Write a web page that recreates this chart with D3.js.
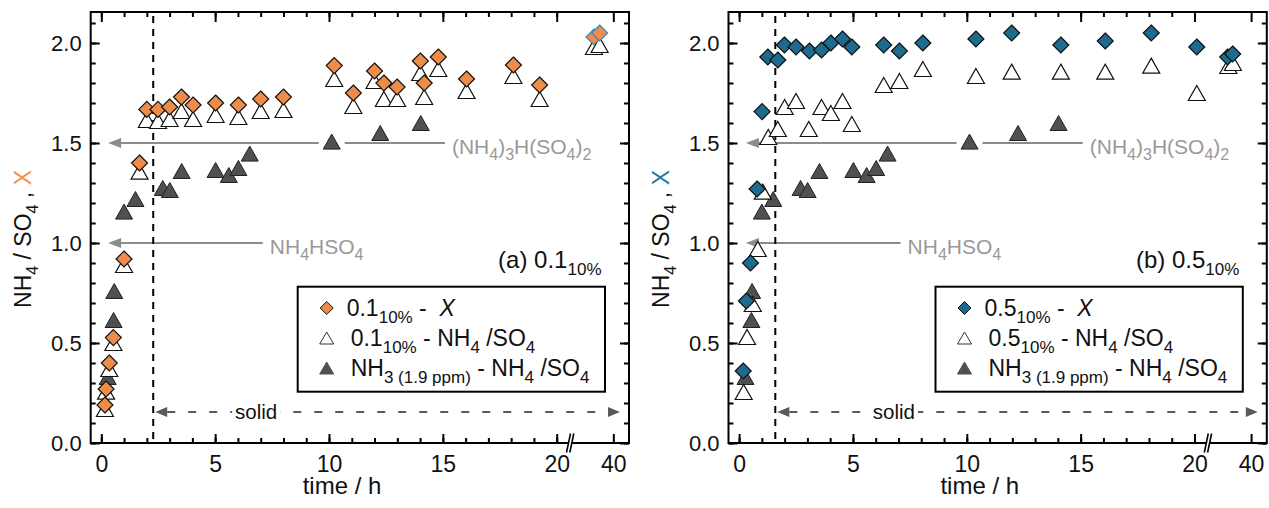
<!DOCTYPE html>
<html>
<head>
<meta charset="utf-8">
<script src="https://cdn.jsdelivr.net/npm/d3@7"></script>
<style>
  body { margin: 0; background: #fff; }
  svg { display: block; font-family: "Liberation Sans", Arial, Helvetica, sans-serif; }
</style>
</head>
<body>
<svg id="chart" width="1269" height="508"></svg>
<script>
// tick values
const timeTicks = [0, 5, 10, 15, 20];
const timeMinor = d3.range(0, 21);
const lateTicks = [40];
const ratioTicks = [0, 0.5, 1, 1.5, 2];
const ratioMinor = d3.range(0, 22).map((i) => i / 10);

// (a) 0.1_10% : X  [time h, value]
const xOrange = [
  [0.16, 0.19], [0.21, 0.27], [0.35, 0.4], [0.53, 0.527], [1.0, 0.92],
  [1.68, 1.4], [2.0, 1.668], [2.49, 1.668], [3.0, 1.68], [3.52, 1.73],
  [4.03, 1.69], [5.02, 1.7], [6.02, 1.69], [7.0, 1.72], [8.0, 1.73],
  [10.23, 1.887], [11.07, 1.75], [12.0, 1.86], [12.41, 1.8], [12.99, 1.78],
  [14.01, 1.91], [14.18, 1.8], [14.8, 1.93], [16.04, 1.82], [18.1, 1.89],
  [19.25, 1.79], [39.15, 2.03], [39.4, 2.05],
];
// (a) 0.1_10% : NH4/SO4
const ratioA = [
  [0.16, 0.17], [0.21, 0.257], [0.35, 0.37], [0.53, 0.5], [1.0, 0.89],
  [1.68, 1.357], [2.0, 1.615], [2.49, 1.61], [3.0, 1.62], [3.52, 1.66],
  [4.03, 1.62], [5.02, 1.64], [6.02, 1.63], [7.0, 1.66], [8.0, 1.665],
  [10.23, 1.82], [11.07, 1.685], [12.0, 1.81], [12.41, 1.72], [12.99, 1.72],
  [14.01, 1.85], [14.18, 1.73], [14.8, 1.87], [16.04, 1.76], [18.1, 1.835],
  [19.25, 1.72], [39.15, 1.98], [39.4, 1.99],
];
// (b) 0.5_10% : X
const xBlue = [
  [0.18, 0.36], [0.32, 0.71], [0.5, 0.9], [0.79, 1.27], [1.01, 1.657],
  [1.26, 1.93], [1.7, 1.915], [1.99, 1.99], [2.5, 1.98], [3.09, 1.96],
  [3.62, 1.965], [4.03, 2.0], [4.54, 2.02], [4.95, 1.98], [6.35, 1.99],
  [7.04, 1.96], [8.07, 2.0], [10.4, 2.02], [11.97, 2.05], [14.13, 1.99],
  [16.08, 2.01], [18.1, 2.05], [20.1, 1.98], [38.97, 1.93], [39.19, 1.945],
];
// (b) 0.5_10% : NH4/SO4
const ratioB = [
  [0.2, 0.255], [0.35, 0.53], [0.6, 0.695], [0.82, 0.97], [1.04, 1.257],
  [1.28, 1.53], [1.7, 1.57], [2.0, 1.68], [2.5, 1.71], [3.06, 1.57],
  [3.62, 1.68], [4.03, 1.65], [4.54, 1.71], [4.95, 1.595], [6.35, 1.79],
  [7.04, 1.81], [8.07, 1.87], [10.4, 1.835], [11.97, 1.857], [14.13, 1.857],
  [16.08, 1.857], [18.1, 1.887], [20.1, 1.75], [39.0, 1.885], [39.2, 1.9],
];
// NH3 (1.9 ppm) : NH4/SO4 (same in both panels)
const nh3 = [
  [0.28, 0.33], [0.54, 0.615], [0.57, 0.76], [1.0, 1.157], [1.5, 1.22],
  [2.7, 1.275], [3.01, 1.265], [3.53, 1.36], [5.02, 1.365], [5.6, 1.34],
  [6.02, 1.375], [6.52, 1.447], [10.12, 1.507], [12.25, 1.55], [14.03, 1.6],
];

// reference salts: ratio, label start (h)
const salts = [
  { v: 1.5, at: 15.4, parts: [["(NH", "n"], ["4", "s"], [")", "n"], ["3", "s"], ["H(SO", "n"], ["4", "s"], [")", "n"], ["2", "s"]] },
  { v: 1.0, at: 7.4, parts: [["NH", "n"], ["4", "s"], ["HSO", "n"], ["4", "s"]] },
];

const panels = [
  { dx: 0, X: xOrange, ratio: ratioA, fill: "#ee8d4a", label: "#f0914a", lateStroke: "#3b8bbf", name: "0.1", tag: "(a) ", solid: 2.28 },
  { dx: 637.8, X: xBlue, ratio: ratioB, fill: "#1d6b8f", label: "#1f7aa0", lateStroke: "#111", name: "0.5", tag: "(b) ", solid: 1.59 },
];

const pL = 90.7, pR = 629, pT = 12, pB = 443, brk = 566.5;
const fs = 22;
const legFs = 23;

const x1 = d3.scaleLinear().domain([0, 20]).range([101.3, 556.7]);
const x2 = d3.scaleLinear().domain([40, 41]).range([613.3, 636.07]);
const X = (t) => (t < 30 ? x1(t) : x2(t));
const y = d3.scaleLinear().domain([0, 2]).range([pB, 43]);

const svg = d3.select("#chart");

const diamond = (r) => `M0,${-r}L${r},0L0,${r}L${-r},0Z`;
const triangle = (w, h) => `M0,${-h / 2}L${w / 2},${h / 2}L${-w / 2},${h / 2}Z`;

// text with subscripts
const rich = (sel, parts, size, subSize, color) => {
  let shift = 0;
  parts.forEach(([s, kind]) => {
    const t = sel.append("tspan").text(s);
    const target = kind === "s" ? size * 0.3 : 0;
    t.attr("dy", target - shift);
    shift = target;
    if (kind === "s") t.attr("font-size", subSize);
    if (kind === "i") t.attr("font-style", "italic");
    if (kind === "c") t.attr("fill", color);
  });
};

panels.forEach((p) => {
  const g = svg.append("g").attr("transform", `translate(${p.dx},0)`);

  // axes, ticks inward
  const tickStyle = (a) => {
    a.select(".domain").remove();
    a.selectAll(".tick line").attr("stroke", "#000").attr("stroke-width", 2);
  };
  g.append("g")
    .attr("transform", `translate(0,${pB})`)
    .call(d3.axisBottom(x1).tickValues(timeMinor).tickSize(-5).tickFormat(""))
    .call(tickStyle);
  g.append("g")
    .attr("class", "xlab")
    .attr("transform", `translate(0,${pB})`)
    .call(d3.axisBottom(x1).tickValues(timeTicks).tickSizeInner(-9).tickSizeOuter(0).tickPadding(13))
    .call(tickStyle);
  g.append("g")
    .attr("class", "xlab")
    .attr("transform", `translate(0,${pB})`)
    .call(d3.axisBottom(x2).tickValues(lateTicks).tickSizeInner(-9).tickSizeOuter(0).tickPadding(13).tickFormat(d3.format("d")))
    .call(tickStyle);
  g.append("g")
    .attr("transform", `translate(0,${pT})`)
    .call(d3.axisTop(x1).tickValues(timeMinor).tickSize(-5).tickFormat(""))
    .call(tickStyle);
  g.append("g")
    .attr("transform", `translate(0,${pT})`)
    .call(d3.axisTop(x1).tickValues(timeTicks).tickSize(-10).tickFormat(""))
    .call(tickStyle);
  g.append("g")
    .attr("transform", `translate(0,${pT})`)
    .call(d3.axisTop(x2).tickValues(lateTicks).tickSize(-10).tickFormat(""))
    .call(tickStyle);
  g.append("g")
    .attr("transform", `translate(${pL},0)`)
    .call(d3.axisLeft(y).tickValues(ratioMinor).tickSize(-5).tickFormat(""))
    .call(tickStyle);
  g.append("g")
    .attr("transform", `translate(${pL},0)`)
    .call(d3.axisLeft(y).tickValues(ratioTicks).tickSizeInner(-9).tickSizeOuter(0).tickPadding(9).tickFormat(d3.format(".1f")))
    .call(tickStyle);
  g.append("g")
    .attr("transform", `translate(${pR},0)`)
    .call(d3.axisRight(y).tickValues(ratioMinor).tickSize(-5).tickFormat(""))
    .call(tickStyle);
  g.append("g")
    .attr("transform", `translate(${pR},0)`)
    .call(d3.axisRight(y).tickValues(ratioTicks).tickSize(-9).tickFormat(""))
    .call(tickStyle);
  g.selectAll(".tick text").attr("font-size", fs).attr("fill", "#111");
  g.selectAll(".xlab .tick text").attr("font-size", 23);
  g.selectAll("g").attr("font-family", null);

  // frame
  g.append("path")
    .attr("d", `M${pL},${pT}H${pR}V${pB}H${pL}Z`)
    .attr("fill", "none")
    .attr("stroke", "#000")
    .attr("stroke-width", 2);

  // axis break
  g.append("path")
    .attr("d", `M${brk},${pB + 9.5}L${brk + 4},${pB - 9.5}L${brk + 7.3},${pB - 9.5}L${brk + 3.3},${pB + 9.5}Z`)
    .attr("fill", "#fff");
  [0, 3.3].forEach((o) => {
    g.append("line")
      .attr("x1", brk + o).attr("y1", pB + 9.5)
      .attr("x2", brk + o + 4).attr("y2", pB - 9.5)
      .attr("stroke", "#000").attr("stroke-width", 1.6);
  });

  // reference salt arrows
  const gray = "#8c8c8c";
  salts.forEach((s, i) => {
    const yy = y(s.v);
    const tip = x1(0.3);
    const end = x1(s.at) - 7;
    if (i === 0) {
      const gap = x1(nh3[12][0]);
      g.append("line").attr("x1", tip + 10).attr("x2", gap - 13).attr("y1", yy).attr("y2", yy)
        .attr("stroke", gray).attr("stroke-width", 2);
      g.append("line").attr("x1", gap + 13).attr("x2", end).attr("y1", yy).attr("y2", yy)
        .attr("stroke", gray).attr("stroke-width", 2);
    } else {
      g.append("line").attr("x1", tip + 10).attr("x2", end).attr("y1", yy).attr("y2", yy)
        .attr("stroke", gray).attr("stroke-width", 2);
    }
    g.append("path")
      .attr("d", `M${tip},${yy}L${tip + 13},${yy - 5}L${tip + 13},${yy + 5}Z`)
      .attr("fill", gray);
    const t = g.append("text")
      .attr("x", x1(s.at)).attr("y", yy + 10.5)
      .attr("font-size", 21).attr("fill", "#999")
      .style("white-space", "pre");
    rich(t, s.parts, 21, 16);
  });

  // solidification line
  g.append("line")
    .attr("x1", X(p.solid)).attr("x2", X(p.solid))
    .attr("y1", pT + 4).attr("y2", pB)
    .attr("stroke", "#000").attr("stroke-width", 2)
    .attr("stroke-dasharray", "7,6");

  const ys = y(0.155);
  const aL = X(p.solid) + 2, aR = 620;
  const dark = "#5a5a5a";
  g.append("line")
    .attr("x1", aL + 12).attr("x2", aR - 12).attr("y1", ys).attr("y2", ys)
    .attr("stroke", dark).attr("stroke-width", 2).attr("stroke-dasharray", "8,13");
  g.append("path").attr("d", `M${aL},${ys}L${aL + 12},${ys - 5}L${aL + 12},${ys + 5}Z`).attr("fill", dark);
  g.append("path").attr("d", `M${aR},${ys}L${aR - 12},${ys - 5}L${aR - 12},${ys + 5}Z`).attr("fill", dark);
  g.append("rect")
    .attr("x", x1(6.8) - 24).attr("y", ys - 11).attr("width", 48).attr("height", 22).attr("fill", "#fff");
  g.append("text")
    .attr("x", x1(6.8)).attr("y", ys + 7)
    .attr("text-anchor", "middle").attr("font-size", 20.5).attr("fill", "#111")
    .text("solid");

  // data
  g.append("g").selectAll("path").data(nh3).join("path")
    .attr("d", triangle(17, 15))
    .attr("transform", (d) => `translate(${X(d[0])},${y(d[1])})`)
    .attr("fill", "#505050").attr("stroke", "#222").attr("stroke-width", 1);
  g.append("g").selectAll("path").data(p.ratio).join("path")
    .attr("d", triangle(17, 15))
    .attr("transform", (d) => `translate(${X(d[0])},${y(d[1])})`)
    .attr("fill", "#fff").attr("stroke", "#111").attr("stroke-width", 1.2);
  g.append("g").selectAll("path").data(p.X).join("path")
    .attr("d", diamond(8))
    .attr("transform", (d) => `translate(${X(d[0])},${y(d[1])})`)
    .attr("fill", p.fill)
    .attr("stroke", (d) => (d[0] > 30 ? p.lateStroke : "#111"))
    .attr("stroke-width", 1.2);

  // legend
  const lg = g.append("g");
  lg.append("rect")
    .attr("x", 297.7).attr("y", 286.7).attr("width", 307.3).attr("height", 105)
    .attr("fill", "#fff").attr("stroke", "#000").attr("stroke-width", 2);
  const rows = [
    { sym: diamond(6.5), fill: p.fill, stroke: "#111", tx: 346.7,
      parts: [[p.name, "n"], ["10%", "s"], [" -  ", "n"], ["X", "i"]] },
    { sym: triangle(14, 12), fill: "#fff", stroke: "#333", tx: 350.7,
      parts: [[p.name, "n"], ["10%", "s"], [" - NH", "n"], ["4", "s"], [" /SO", "n"], ["4", "s"]] },
    { sym: triangle(14, 12), fill: "#505050", stroke: "#505050", tx: 350.7,
      parts: [["NH", "n"], ["3 (1.9 ppm)", "s"], [" - NH", "n"], ["4", "s"], [" /SO", "n"], ["4", "s"]] },
  ];
  rows.forEach((r, i) => {
    const cy = 308 + i * 30;
    lg.append("path").attr("d", r.sym).attr("transform", `translate(326.7,${cy})`)
      .attr("fill", r.fill).attr("stroke", r.stroke).attr("stroke-width", 1);
    const t = lg.append("text").attr("x", r.tx).attr("y", cy + 8)
      .attr("font-size", legFs).attr("fill", "#111").style("white-space", "pre");
    rich(t, r.parts, legFs, 17);
  });

  // panel tag
  const tag = g.append("text")
    .attr("x", 601.5).attr("y", 268)
    .attr("text-anchor", "end").attr("font-size", 24).attr("fill", "#111")
    .style("white-space", "pre");
  rich(tag, [[p.tag + p.name, "n"], ["10%", "s"]], 24, 17);

  // axis titles
  g.append("text")
    .attr("x", 342).attr("y", 494)
    .attr("text-anchor", "middle").attr("font-size", 24).attr("fill", "#111")
    .text("time / h");
  const yl = g.append("text")
    .attr("transform", `translate(31,239) rotate(-90)`)
    .attr("text-anchor", "middle").attr("font-size", 23).attr("fill", "#111")
    .style("white-space", "pre");
  rich(yl, [["NH", "n"], ["4", "s"], [" / SO", "n"], ["4", "s"], [" , ", "n"], ["X", "c"]], 23, 16, p.label);
});
</script>
</body>
</html>
